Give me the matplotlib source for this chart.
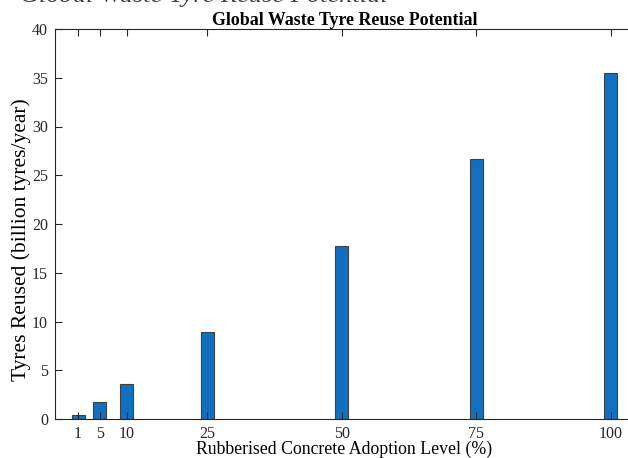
import numpy as np
import matplotlib.pyplot as plt

plt.rcParams['font.family'] = ['Liberation Serif', 'DejaVu Serif']

# adoption levels and tyres reused
adoption = [1, 5, 10, 25, 50, 75, 100]
reused = [0.36, 1.78, 3.55, 8.88, 17.75, 26.63, 35.5]
yticks = [0, 5, 10, 15, 20, 25, 30, 35, 40]

W, H = 628, 458
fig = plt.figure(figsize=(W / 100, H / 100), dpi=100)
# axes runs past the right edge, like the cropped original
ax = fig.add_axes([55 / W, 39 / H, 579 / W, 390 / H])

ax.bar(adoption, reused, width=2.45, color='#1170c0', edgecolor='#404040', linewidth=0.8)

ax.set_xlim(-3.3, 104.3)
ax.set_ylim(0, 40)
ax.set_xticks(adoption)
ax.set_yticks(yticks)
ax.tick_params(direction='in', length=5, width=0.8, colors='#262626', labelsize=11.5,
               top=True, pad=5)
for s in ax.spines.values():
    s.set_color('#262626')
    s.set_linewidth(0.8)
ax.tick_params(axis='y', right=False)

ax.set_title('Global Waste Tyre Reuse Potential', fontsize=12.9, fontweight='bold', pad=3)
ax.set_xlabel('Rubberised Concrete Adoption Level (%)', fontsize=12.8, labelpad=-1)
ax.set_ylabel('Tyres Reused (billion tyres/year)', fontsize=15.5)
ax.yaxis.set_label_coords(-0.041, 0.46)

# cut-off heading at the very top
fig.text(20 / W, 1 - 2 / H, 'Global Waste Tyre Reuse Potential', fontsize=19,
         style='italic', color='#404040', va='baseline', ha='left')

fig.savefig('out.png', dpi=100)
